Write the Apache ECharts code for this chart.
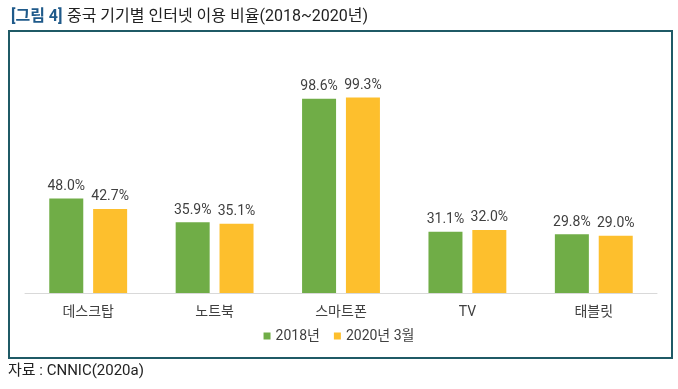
<!DOCTYPE html>
<html><head><meta charset="utf-8">
<script src="https://cdn.jsdelivr.net/npm/echarts@6/dist/echarts.min.js"></script>
<style>html,body{margin:0;padding:0;background:#fff}#c{width:678px;height:389px}</style>
</head><body><div id="c"></div>
<script>
const categories = ['데스크탑', '노트북', '스마트폰', 'TV', '태블릿'];
const series2018 = [48.0, 35.9, 98.6, 31.1, 29.8];
const series2020 = [42.7, 35.1, 99.3, 32.0, 29.0];
const seriesNames = ['2018년', '2020년 3월'];

const font = "Roboto, 'Noto Sans CJK KR', sans-serif";
const chart = echarts.init(document.getElementById('c'), null, {renderer: 'canvas'});
const lbl = {show: true, position: 'top', distance: 5, color: '#404040', fontSize: 14, fontFamily: font,
  formatter: p => p.value.toFixed(1) + '%'};
chart.setOption({
  animation: false,
  textStyle: {fontFamily: font},
  title: {
    text: '{a|[그림 4]} {b|중국 기기별 인터넷 이용 비율(2018~2020년)}',
    left: 6, top: 3,
    textStyle: {fontWeight: 'normal', rich: {
      a: {color: '#1F5A8A', fontSize: 16, fontWeight: 'bold', fontFamily: font},
      b: {color: '#222', fontSize: 16, fontWeight: 'normal', fontFamily: font}
    }}
  },
  graphic: [
    {type: 'rect', shape: {x: 9, y: 31, width: 663, height: 327},
     style: {fill: 'none', stroke: '#1F5A66', lineWidth: 2}, silent: true},
    {type: 'text', left: 8, top: 364,
     style: {text: '자료 : CNNIC(2020a)', fill: '#222', font: '15px ' + font}}
  ],
  legend: {
    data: seriesNames, bottom: 41, left: 'center',
    icon: 'rect', itemWidth: 7, itemHeight: 7, itemGap: 14,
    textStyle: {color: '#404040', fontSize: 14, fontFamily: font}
  },
  grid: {left: 25, right: 21, top: 96, bottom: 96},
  xAxis: {
    type: 'category', data: categories,
    axisLine: {lineStyle: {color: '#D9D9D9', width: 1}},
    axisTick: {show: false},
    axisLabel: {color: '#404040', fontSize: 14, margin: 13, fontFamily: font}
  },
  yAxis: {type: 'value', min: 0, max: 100, show: false, splitLine: {show: false}},
  series: [
    {name: seriesNames[0], type: 'bar', data: series2018, barWidth: 34, barGap: '29%',
     itemStyle: {color: '#70AD47'}, label: lbl},
    {name: seriesNames[1], type: 'bar', data: series2020, barWidth: 34,
     itemStyle: {color: '#FDBF2D'}, label: lbl}
  ]
});
</script></body></html>
